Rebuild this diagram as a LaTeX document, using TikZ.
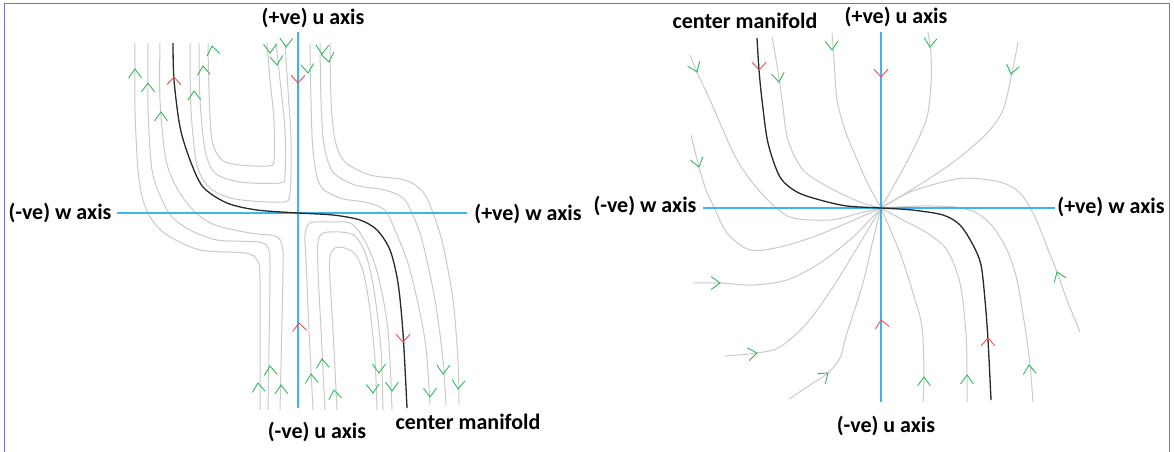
\documentclass[tikz,border=0pt]{standalone}
\usepackage{fontspec}
\setmainfont{Carlito}
\definecolor{flowgrey}{RGB}{202,202,202}
\definecolor{manblack}{RGB}{40,40,40}
\definecolor{axisblue}{RGB}{60,180,238}
\definecolor{tipgreen}{RGB}{50,185,95}
\definecolor{tipred}{RGB}{238,80,85}
\definecolor{framecol}{RGB}{112,112,208}

% chevron flow marks: x, y, direction (degrees, 90 = up)
\newcommand{\gch}[3]{\draw[gtip] (#1,#2) ++({#3+180-36}:11pt) -- (#1,#2) -- ++({#3+180+36}:11pt);}
\newcommand{\rch}[3]{\draw[rtip] (#1,#2) ++({#3+180-42}:10.5pt) -- (#1,#2) -- ++({#3+180+42}:10.5pt);}

\tikzset{
  flow/.style={draw=flowgrey, line width=1pt},
  cman/.style={draw=manblack, line width=1.3pt},
  axis/.style={draw=axisblue, line width=1.1pt},
  lbl/.style={font=\fontsize{22}{26}\selectfont\bfseries, inner sep=0pt},
  gtip/.style={draw=tipgreen, line width=0.9pt},
  rtip/.style={draw=tipred, line width=0.9pt},
}

\begin{document}
\begin{tikzpicture}[x=1pt,y=-1pt]
\useasboundingbox (0,0) rectangle (1174,451);
\fill[white] (0,0) rectangle (1174,451);
\draw[framecol, line width=1pt] (4,452) -- (4,3) -- (1169,3) -- (1169,452);

% ---------------- left panel: saddle-type portrait ----------------
\coordinate (LwL) at (117,213);
\coordinate (LwR) at (467,213);
\coordinate (LuT) at (298,32);
\coordinate (LuB) at (298,408);

% outer left family
\draw[flow] plot[smooth] coordinates {(135,43) (135,110) (138,170) (143,200) (152,220) (167,235) (200,250) (245,253) (257,260) (260,280) (260,410)};
\draw[flow] plot[smooth] coordinates {(148,43) (148,110) (152,170) (162,200) (172,217) (190,230) (217,240) (258,242) (268,248) (270,270) (268,410)};
\draw[flow] plot[smooth] coordinates {(160,43) (160,100) (166,160) (178,190) (195,212) (215,225) (250,233) (275,236) (282,245) (283,270) (280,410)};
% upper nested loops
\draw[flow] plot[smooth] coordinates {(208,43) (209,90) (212,140) (222,160) (240,165) (268,166) (274,160) (274,120) (270,80) (267,43)};
\draw[flow] plot[smooth] coordinates {(199,43) (200,100) (205,150) (215,173) (240,182) (280,183) (285,175) (285,130) (280,80) (276,43)};
\draw[flow] plot[smooth] coordinates {(190,43) (191,110) (197,165) (210,188) (235,199) (282,202) (290,193) (291,140) (288,90) (285,43)};
% outer right family
\draw[flow] plot[smooth] coordinates {(310,43) (311,100) (313,150) (320,185) (340,198) (365,202) (380,207) (387,213) (395,230) (410,270) (425,340) (430,405)};
\draw[flow] plot[smooth] coordinates {(320,43) (321,100) (324,145) (333,172) (355,185) (385,190) (403,198) (412,213) (422,240) (435,300) (443,360) (446,405)};
\draw[flow] plot[smooth] coordinates {(330,43) (331,100) (335,140) (345,162) (370,175) (405,180) (423,192) (433,213) (443,245) (453,300) (458,360) (459,405)};
% lower nested loops
\draw[flow] plot[smooth] coordinates {(313,410) (309,330) (306,260) (305,235) (310,223) (330,222) (352,224) (367,245) (378,275) (388,330) (392,410)};
\draw[flow] plot[smooth] coordinates {(325,410) (321,330) (318,270) (318,242) (323,233) (340,232) (355,236) (366,255) (374,290) (381,350) (383,410)};
\draw[flow] plot[smooth] coordinates {(337,410) (333,330) (330,280) (330,256) (335,248) (345,248) (356,255) (364,275) (370,310) (375,360) (377,410)};

\draw[axis] (LwL) -- (LwR);
\draw[axis] (LuT) -- (LuB);

% centre manifold
\draw[cman] plot[smooth] coordinates {(173,43) (174,80) (180,127) (190,160) (203,187) (227,203) (257,210) (298,213) (333,215) (360,220) (377,230) (390,250) (398,283) (403,333) (407,408)};

% flow marks
\gch{135}{69}{90} \gch{148}{83}{90} \gch{161}{112}{90}
\gch{194}{91}{92} \gch{203}{66}{95} \gch{212}{46}{100}
\gch{270}{53}{270} \gch{277}{65}{275} \gch{286}{47}{268}
\gch{308}{73}{275} \gch{322}{54}{268} \gch{329}{62}{280}
\gch{270}{366}{95} \gch{258}{383}{95} \gch{281}{385}{92}
\gch{322}{359}{95} \gch{311}{374}{95} \gch{334}{390}{98}
\gch{379}{373}{270} \gch{373}{393}{272} \gch{392}{391}{270}
\gch{430}{397}{270} \gch{443}{374}{268} \gch{458}{389}{265}
\rch{174}{77}{90} \rch{298}{83}{270} \rch{299}{323}{95} \rch{403}{342}{270}

\node[lbl] (Lup) at (313,17.5) {(+ve) u axis};
\node[lbl] (Lwneg) at (60,213) {(-ve) w axis};
\node[lbl] (Lwpos) at (528,214) {(+ve) w axis};
\node[lbl] (Ldown) at (317,432) {(-ve) u axis};
\node[lbl] (Lcm) at (468,422) {center manifold};

% ---------------- right panel: stable node ----------------
\coordinate (RwL) at (703,208);
\coordinate (RwR) at (1055,208);
\coordinate (RuT) at (881,32);
\coordinate (RuB) at (881,402);

\draw[flow] plot[smooth] coordinates {(772,37) (777,65) (782,100) (788,140) (803,170) (830,188) (860,202) (881,208)};
\draw[flow] plot[smooth] coordinates {(832,33) (834,60) (837,100) (845,130) (853,150) (866,180) (881,208)};
\draw[flow] plot[smooth] coordinates {(928,32) (931,55) (931,83) (927,117) (913,150) (893,187) (881,208)};
\draw[flow] plot[smooth] coordinates {(1018,42) (1012,73) (1003,110) (987,133) (960,157) (927,180) (881,208)};
\draw[flow] plot[smooth] coordinates {(1080,332) (1067,300) (1057,272) (1047,247) (1035,217) (1020,193) (1000,182) (967,178) (943,182) (910,192) (881,208)};
\draw[flow] plot[smooth] coordinates {(1033,402) (1030,365) (1025,327) (1017,280) (1007,250) (993,227) (977,213) (955,207) (920,206) (881,208)};
\draw[flow] plot[smooth] coordinates {(967,402) (967,375) (966,333) (960,283) (947,250) (927,233) (903,220) (881,208)};
\draw[flow] plot[smooth] coordinates {(923,402) (924,377) (922,327) (913,293) (900,253) (881,208)};
\draw[flow] plot[smooth] coordinates {(789,399) (810,385) (828,373) (840,358) (847,333) (863,283) (873,240) (881,208)};
\draw[flow] plot[smooth] coordinates {(725,356) (757,353) (780,347) (807,323) (833,287) (860,243) (881,208)};
\draw[flow] plot[smooth] coordinates {(693,283) (720,283) (753,285) (787,280) (820,263) (853,237) (881,208)};
\draw[flow] plot[smooth] coordinates {(691,135) (699,167) (706,190) (713,205) (727,233) (750,250) (780,247) (813,237) (847,223) (881,208)};
\draw[flow] plot[smooth] coordinates {(690,55) (697,72) (710,100) (737,160) (763,195) (790,217) (830,220) (860,213) (881,208)};

\draw[axis] (RwL) -- (RwR);
\draw[axis] (RuT) -- (RuB);

\draw[cman] plot[smooth] coordinates {(757,38) (759,70) (762,100) (768,143) (780,177) (797,192) (820,200) (847,206) (881,208) (912,210) (943,215) (960,225) (973,245) (981,265) (985,300) (988,340) (991,400)};

\gch{697}{72}{292} \gch{699}{167}{285} \gch{779}{82}{278}
\gch{832}{50}{272} \gch{930}{47}{266} \gch{1011}{74}{258}
\gch{1057}{272}{111} \gch{1029}{365}{95} \gch{967}{375}{90}
\gch{924}{377}{90} \gch{828}{373}{40} \gch{757}{353}{8}
\gch{720}{283}{0}
\rch{759}{70}{270} \rch{881}{77}{270} \rch{881}{320}{100} \rch{988}{338}{90}

\node[lbl] (Rcm) at (745,21) {center manifold};
\node[lbl] (Rup) at (896,17) {(+ve) u axis};
\node[lbl] (Rwneg) at (645,206) {(-ve) w axis};
\node[lbl] (Rwpos) at (1111,207) {(+ve) w axis};
\node[lbl] (Rdown) at (886,426) {(-ve) u axis};
\end{tikzpicture}
\end{document}
